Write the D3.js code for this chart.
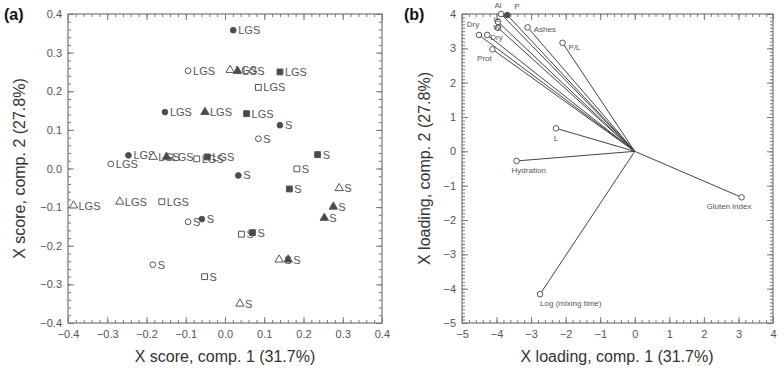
<!DOCTYPE html>
<html>
<head>
<meta charset="utf-8">
<script src="https://cdn.jsdelivr.net/npm/d3@7"></script>
<style>
  body { margin: 0; background: #fff; }
  text { font-family: "Liberation Sans", Arial, sans-serif; }
</style>
</head>
<body>
<svg id="chart" width="784" height="379"></svg>
<script>
// ---------- data (a): scores -------------------------
// marker codes: f = filled, o = open; c = circle, t = triangle, s = square
var scoreMarker = ["fc", "oc", "ot", "ft", "fs", "os", "fc", "ft", "fs", "fc", "oc", "ot", "ft", "os", "fs", "ot", "ot", "os",
                   "oc", "fc", "fs", "os", "fc", "fs", "ot", "ft", "ft", "oc", "fc", "os", "fs", "ot", "ft", "oc", "os", "ot"];
var scoreX = [0.021, -0.094, 0.013, 0.032, 0.140, 0.085, -0.153, -0.051, 0.055, -0.246, -0.291, -0.183, -0.149, -0.072, -0.045, -0.386, -0.268, -0.161,
              0.085, 0.140, 0.236, 0.183, 0.034, 0.164, 0.291, 0.276, 0.253, -0.094, -0.059, 0.042, 0.070, 0.138, 0.161, -0.184, -0.052, 0.038];
var scoreY = [0.358, 0.253, 0.255, 0.252, 0.250, 0.210, 0.146, 0.146, 0.142, 0.034, 0.012, 0.030, 0.030, 0.025, 0.030, -0.096, -0.086, -0.086,
              0.077, 0.112, 0.036, -0.001, -0.018, -0.053, -0.051, -0.099, -0.128, -0.138, -0.131, -0.170, -0.166, -0.236, -0.236, -0.249, -0.280, -0.350];
var scoreLabel = ["LGS", "LGS", "LGS", "LGS", "LGS", "LGS", "LGS", "LGS", "LGS", "LGS", "LGS", "LGS", "LGS", "LGS", "LGS", "LGS", "LGS", "LGS",
                  "S", "S", "S", "S", "S", "S", "S", "S", "S", "S", "S", "S", "S", "S", "S", "S", "S", "S"];
var scoreTicks = [-0.4, -0.3, -0.2, -0.1, 0, 0.1, 0.2, 0.3, 0.4];

// ---------- data (b): loadings -----------------------
var loadNames = ["Al", "P", "Ie", "W", "Ashes", "P/L", "Dry", "Dry", "Prot", "L", "Hydration", "Gluten index", "Log (mixing time)"];
var loadX = [-3.87, -3.69, -3.96, -3.96, -3.10, -2.09, -4.51, -4.27, -4.12, -2.28, -3.42, 3.09, -2.74];
var loadY = [4.00, 3.97, 3.77, 3.60, 3.61, 3.16, 3.39, 3.39, 2.97, 0.67, -0.28, -1.34, -4.16];
var loadTicks = [-5, -4, -3, -2, -1, 0, 1, 2, 3, 4];

// label placement for the loadings [dx, dy, anchor]
var loadLabelPos = [[-3, -6, "middle"], [7, -6, "start"], [-1, 0, "middle"], [-1, 2, "middle"], [6, 5, "start"], [6, 7, "start"],
                    [-6, -8, "middle"], [3, 5, "start"], [-8, 12, "middle"], [0, 13, "middle"], [-5, 12, "start"], [-35, 12, "start"], [0, 12, "start"]];

var svg = d3.select("#chart");
var ink = "#4a4a4a";

var plotTop = 14, plotBottom = 323;

// draws a framed panel with inward ticks on all four sides
function drawFrame(g, x, y, major, minorStepX, minorStepY, fmt) {
  var xr = x.range(), yr = y.range();
  var xd = x.domain(), yd = y.domain();
  var minorX = d3.range(xd[0], xd[1] + minorStepX / 2, minorStepX);
  var minorY = d3.range(yd[0], yd[1] + minorStepY / 2, minorStepY);

  g.append("rect")
    .attr("x", xr[0]).attr("y", yr[1])
    .attr("width", xr[1] - xr[0]).attr("height", yr[0] - yr[1])
    .attr("fill", "none").attr("stroke", "#777").attr("stroke-width", 1.2);

  var makers = [
    () => d3.axisBottom(x), () => d3.axisTop(x), () => d3.axisLeft(y), () => d3.axisRight(y)
  ];
  var shifts = [`translate(0,${yr[0]})`, `translate(0,${yr[1]})`, `translate(${xr[0]},0)`, `translate(${xr[1]},0)`];

  makers.forEach(function (mk, i) {
    var minor = i < 2 ? minorX : minorY;
    var mg = g.append("g").attr("transform", shifts[i])
      .call(mk().tickValues(minor).tickSize(-3).tickFormat(""));
    var Mg = g.append("g").attr("transform", shifts[i])
      .call(mk().tickValues(major).tickSize(-6).tickPadding(i == 0 ? 7 : 6).tickFormat(i == 0 || i == 2 ? fmt : ""));
    [mg, Mg].forEach(function (a) {
      a.select(".domain").remove();
      a.selectAll("line").attr("stroke", "#777");
      a.selectAll("text").attr("fill", "#555").style("font-size", "11px");
    });
  });
}

// ---------- panel (a) ---------------------------------
var xA = d3.scaleLinear().domain([-0.4, 0.4]).range([68, 382]);
var yA = d3.scaleLinear().domain([-0.4, 0.4]).range([plotBottom, plotTop]);
var gA = svg.append("g");
drawFrame(gA, xA, yA, scoreTicks, 0.02, 0.02, d3.format(".1f"));

var symType = {c: d3.symbolCircle, t: d3.symbolTriangle, s: d3.symbolSquare};
var symSize = {c: 26, t: 30, s: 34};

var pts = gA.selectAll(".pt")
  .data(d3.range(scoreX.length))
  .enter().append("g")
  .attr("transform", i => `translate(${xA(scoreX[i])},${yA(scoreY[i])})`);

pts.append("path")
  .attr("d", i => d3.symbol().type(symType[scoreMarker[i][1]]).size(symSize[scoreMarker[i][1]])())
  .attr("fill", i => scoreMarker[i][0] == "f" ? ink : "#fff")
  .attr("stroke", "#555")
  .attr("stroke-width", 1);

pts.append("text")
  .attr("x", 5)
  .attr("y", 4)
  .attr("fill", "#555")
  .style("font-size", "11px")
  .text(i => scoreLabel[i]);

gA.append("text")
  .attr("x", 225).attr("y", 362)
  .attr("text-anchor", "middle")
  .attr("fill", "#333")
  .style("font-size", "16px")
  .text("X score, comp. 1 (31.7%)");

gA.append("text")
  .attr("transform", `translate(25,${(plotTop + plotBottom) / 2}) rotate(-90)`)
  .attr("text-anchor", "middle")
  .attr("fill", "#333")
  .style("font-size", "16px")
  .text("X score, comp. 2 (27.8%)");

gA.append("text")
  .attr("x", 4).attr("y", 20)
  .attr("fill", "#111")
  .style("font-size", "16px").style("font-weight", "bold")
  .text("(a)");

// ---------- panel (b) ---------------------------------
var xB = d3.scaleLinear().domain([-5, 4]).range([462, 773]);
var yB = d3.scaleLinear().domain([-5, 4]).range([plotBottom, plotTop]);
var gB = svg.append("g");
drawFrame(gB, xB, yB, loadTicks, 0.2, 0.1, d3.format("d"));

var vec = gB.selectAll(".vec")
  .data(d3.range(loadX.length))
  .enter().append("g");

vec.append("line")
  .attr("x1", xB(0)).attr("y1", yB(0))
  .attr("x2", i => xB(loadX[i])).attr("y2", i => yB(loadY[i]))
  .attr("stroke", "#444").attr("stroke-width", 1);

vec.append("circle")
  .attr("cx", i => xB(loadX[i])).attr("cy", i => yB(loadY[i]))
  .attr("r", 2.8)
  .attr("fill", i => loadNames[i] == "P" ? ink : "#fff")
  .attr("stroke", "#555");

vec.append("text")
  .attr("x", i => xB(loadX[i]) + loadLabelPos[i][0])
  .attr("y", i => yB(loadY[i]) + loadLabelPos[i][1])
  .attr("text-anchor", i => loadLabelPos[i][2])
  .attr("fill", "#555")
  .style("font-size", "8px")
  .text(i => loadNames[i]);

gB.append("text")
  .attr("x", 617).attr("y", 362)
  .attr("text-anchor", "middle")
  .attr("fill", "#333")
  .style("font-size", "16px")
  .text("X loading, comp. 1 (31.7%)");

gB.append("text")
  .attr("transform", `translate(430,${(plotTop + plotBottom) / 2}) rotate(-90)`)
  .attr("text-anchor", "middle")
  .attr("fill", "#333")
  .style("font-size", "16px")
  .text("X loading, comp. 2 (27.8%)");

gB.append("text")
  .attr("x", 404).attr("y", 20)
  .attr("fill", "#111")
  .style("font-size", "16px").style("font-weight", "bold")
  .text("(b)");
</script>
</body>
</html>
